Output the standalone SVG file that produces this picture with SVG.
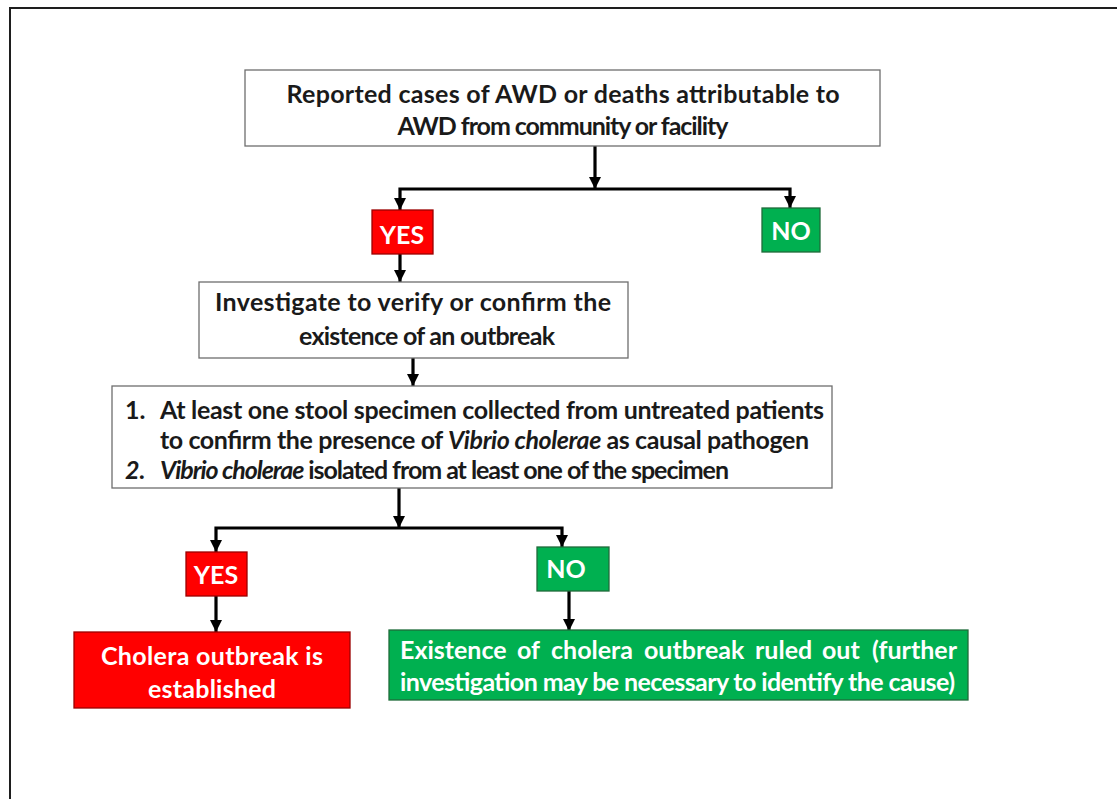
<svg xmlns="http://www.w3.org/2000/svg" width="1117" height="799" viewBox="0 0 1117 799">
<defs>
<style>
.t{font-family:Lato,"Liberation Sans",sans-serif;font-weight:bold;font-size:25px;fill:#1a1a1a}
.w{fill:#ffffff}
.box{fill:#ffffff;stroke:#6e6e6e;stroke-width:1.3}
.red{fill:#ff0000;stroke:#9a0000;stroke-width:1.3}
.grn{fill:#00b050;stroke:#1f6b3a;stroke-width:1.3}
.c{fill:none;stroke:#000;stroke-width:3.2}
</style>
<marker id="ah" markerUnits="userSpaceOnUse" markerWidth="12" markerHeight="14" refX="12" refY="6" orient="auto" viewBox="0 0 12 12">
<path d="M0,0 L12,6 L0,12 z" fill="#000"/>
</marker>
</defs>
<rect x="10" y="8" width="1130" height="820" fill="#fff" stroke="#1e1e1e" stroke-width="2"/>

<g id="connectors">
<path class="c" d="M595,146 V189" marker-end="url(#ah)"/>
<path class="c" d="M595,189 H400 V210" marker-end="url(#ah)"/>
<path class="c" d="M595,189 H790 V208" marker-end="url(#ah)"/>
<path class="c" d="M400,254 V282" marker-end="url(#ah)"/>
<path class="c" d="M413,358 V386" marker-end="url(#ah)"/>
<path class="c" d="M399,488 V528" marker-end="url(#ah)"/>
<path class="c" d="M399,528 H216 V552" marker-end="url(#ah)"/>
<path class="c" d="M399,528 H562 V547" marker-end="url(#ah)"/>
<path class="c" d="M216,596 V632" marker-end="url(#ah)"/>
<path class="c" d="M569,591 V631" marker-end="url(#ah)"/>
</g>

<g id="n-reported">
<rect class="box" x="245" y="70" width="635" height="76"/>
<text class="t" x="563" y="103" text-anchor="middle" textLength="553">Reported cases of AWD or deaths attributable to</text>
<text class="t" x="563" y="135" text-anchor="middle" textLength="331">AWD from community or facility</text>
</g>

<g id="n-yes1">
<rect class="red" x="372" y="210" width="61" height="44"/>
<text class="t w" x="402" y="244" text-anchor="middle">YES</text>
</g>

<g id="n-no1">
<rect class="grn" x="762" y="208" width="58" height="44"/>
<text class="t w" x="791" y="240" text-anchor="middle">NO</text>
</g>

<g id="n-investigate">
<rect class="box" x="199" y="282" width="429" height="76"/>
<text class="t" x="413" y="311" text-anchor="middle" textLength="396">Investigate to verify or confirm the</text>
<text class="t" x="427" y="345" text-anchor="middle" textLength="256">existence of an outbreak</text>
</g>

<g id="n-criteria">
<rect class="box" x="112" y="386" width="720" height="102"/>
<text class="t" x="125" y="419">1.</text>
<text class="t" x="160" y="419" textLength="664">At least one stool specimen collected from untreated patients</text>
<text class="t" x="160" y="449" textLength="649">to confirm the presence of <tspan font-style="italic">Vibrio cholerae</tspan> as causal pathogen</text>
<text class="t" x="125" y="479" font-style="italic">2.</text>
<text class="t" x="160" y="479" textLength="569"><tspan font-style="italic">Vibrio cholerae</tspan> isolated from at least one of the specimen</text>
</g>

<g id="n-yes2">
<rect class="red" x="186" y="552" width="61" height="44"/>
<text class="t w" x="216" y="584" text-anchor="middle">YES</text>
</g>

<g id="n-no2">
<rect class="grn" x="537" y="547" width="72" height="44"/>
<text class="t w" x="566" y="578" text-anchor="middle">NO</text>
</g>

<g id="n-established">
<rect class="red" x="74" y="632" width="276" height="76"/>
<text class="t w" x="212" y="665" text-anchor="middle" textLength="222">Cholera outbreak is</text>
<text class="t w" x="212" y="698" text-anchor="middle" textLength="128">established</text>
</g>

<g id="n-ruledout">
<rect class="grn" x="389" y="630" width="579" height="70"/>
<text class="t w" y="659"><tspan x="400">Existence</tspan><tspan x="517">of</tspan><tspan x="551">cholera</tspan><tspan x="644">outbreak</tspan><tspan x="755">ruled</tspan><tspan x="822">out</tspan></text>
<text class="t w" x="957" y="659" text-anchor="end">(further</text>
<text class="t w" x="400" y="691" textLength="555">investigation may be necessary to identify the cause)</text>
</g>
</svg>
